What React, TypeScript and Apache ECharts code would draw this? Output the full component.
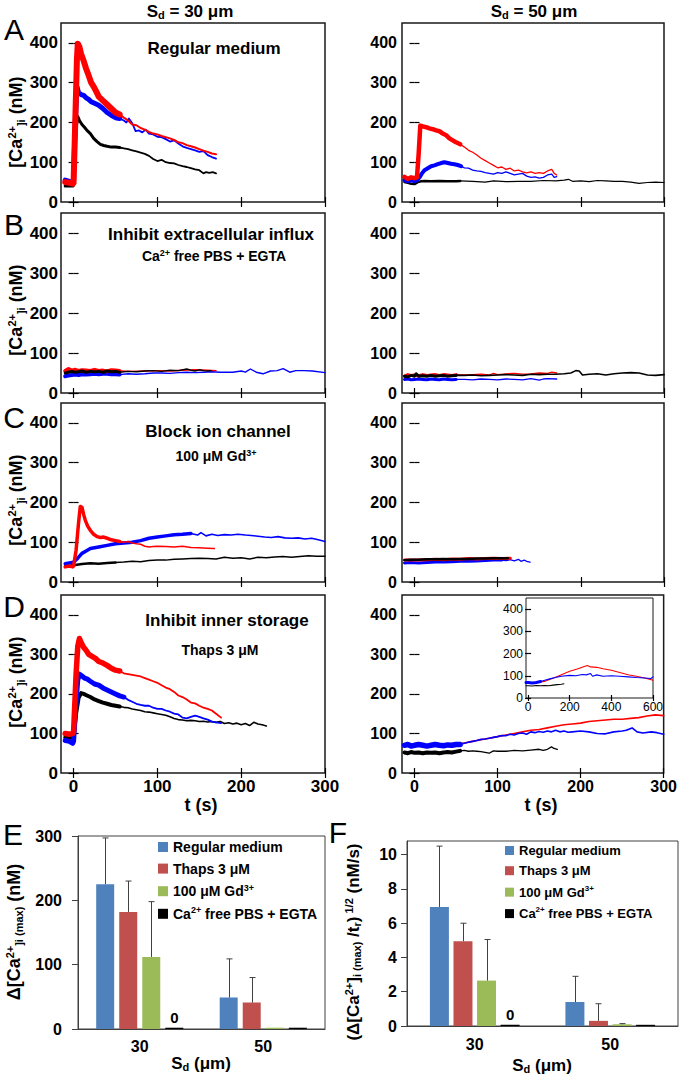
import React, { useEffect, useRef } from "react";
import * as echarts from "echarts";

// ---------------- time traces: [t (s), [Ca2+]i (nM)] ----------------
// A, Sd = 30 um
const A30_red_band = [[-10,50],[-5,48],[-1,46],[0,48],[2,200],[4,360],[5,398],[7,390],[9,372],[12,355],[15,335],[18,318],[21,300],[24,290],[27,278],[30,265],[35,255],[40,245],[45,235],[50,225],[55,220]];
const A30_red_tail = [[55,220],[60,212],[65,205],[70,195],[75,193],[80,186],[85,182],[90,176],[95,172],[100,170],[105,166],[110,163],[115,160],[120,156],[125,150],[130,148],[135,143],[140,140],[145,137],[150,133],[155,129],[160,126],[165,122],[170,120]];
const A30_blue_band = [[-10,55],[-5,52],[-1,50],[0,55],[2,200],[4,290],[6,275],[9,270],[12,268],[15,262],[18,258],[21,252],[25,248],[30,243],[35,235],[40,225],[45,218],[50,212],[55,210]];
const A30_blue_tail = [[55,210],[60,205],[63,200],[66,210],[70,198],[74,178],[78,180],[82,175],[86,182],[90,172],[95,170],[100,164],[105,163],[110,158],[115,152],[120,155],[125,147],[130,140],[135,136],[140,133],[145,130],[150,126],[155,128],[160,118],[165,113],[170,109]];
const A30_black_band = [[-10,40],[-5,40],[-1,40],[0,42],[2,150],[4,205],[5,215],[7,205],[10,195],[13,188],[16,180],[20,172],[24,160],[28,152],[32,145],[36,142],[40,140],[45,138],[50,138],[55,137]];
const A30_black_tail = [[55,137],[60,135],[65,133],[70,130],[75,127],[80,124],[85,121],[90,116],[95,108],[100,103],[105,106],[110,100],[115,98],[120,97],[125,93],[130,90],[135,88],[140,85],[145,82],[150,80],[155,72],[158,75],[162,73],[166,75],[170,72]];
// A, Sd = 50 um
const A50_red_band = [[-12,63],[-8,58],[-4,62],[0,60],[3,62],[5,120],[7,192],[10,190],[14,188],[18,185],[22,183],[26,180],[30,178],[34,172],[38,168],[42,160],[46,155],[50,150],[55,145]];
const A50_red_tail = [[55,145],[60,138],[65,130],[70,125],[75,118],[80,110],[85,104],[90,98],[95,92],[100,86],[105,88],[110,82],[115,85],[120,78],[125,80],[130,76],[135,73],[140,76],[145,72],[150,74],[155,72],[160,78],[165,82],[168,72],[171,68]];
const A50_blue_band = [[-12,55],[-8,52],[-4,55],[0,52],[3,55],[6,62],[9,72],[12,80],[16,85],[20,90],[24,92],[28,95],[32,98],[36,100],[40,98],[44,96],[48,95],[52,93],[56,90]];
const A50_blue_tail = [[56,90],[60,86],[65,85],[70,80],[75,78],[80,77],[85,74],[90,72],[95,70],[100,74],[105,72],[110,76],[115,72],[120,68],[125,70],[130,72],[135,65],[140,62],[145,63],[150,60],[155,62],[160,68],[165,70],[168,62],[171,64]];
const A50_black_band = [[-12,50],[-8,48],[-4,46],[0,45],[4,50],[8,52],[12,53],[20,52],[30,53],[40,52],[50,52],[55,53]];
const A50_black_tail = [[55,53],[70,52],[85,50],[95,53],[110,51],[125,52],[140,52],[155,54],[170,53],[180,55],[185,57],[190,52],[200,53],[210,51],[220,54],[230,53],[240,52],[250,52],[260,50],[270,47],[280,49],[290,50],[300,49]];
// B, Sd = 30 um
const B30_red_band = [[-10,55],[-6,60],[-2,56],[2,58],[6,55],[10,57],[15,56],[20,55],[25,58],[30,55],[35,56],[40,54],[45,57],[50,56],[55,55]];
const B30_red_tail = [[55,55],[70,54],[85,55],[100,56],[115,55],[130,57],[145,58],[160,57],[170,56]];
const B30_blue_band = [[-10,42],[-6,44],[-2,45],[2,46],[6,45],[10,47],[15,46],[20,47],[25,48],[30,47],[35,48],[40,48],[45,47],[50,47],[55,46]];
const B30_blue_tail = [[55,46],[65,48],[75,47],[85,48],[95,50],[105,50],[115,49],[125,51],[135,52],[145,51],[155,52],[165,53],[175,52],[185,52],[190,52],[200,55],[205,52],[211,60],[218,52],[226,48],[235,55],[243,56],[250,61],[258,52],[265,56],[275,56],[285,55],[300,51]];
const B30_black_band = [[-10,50],[-6,52],[-2,54],[2,52],[6,53],[10,55],[15,52],[20,54],[25,53],[30,54],[35,52],[40,55],[45,53],[50,54],[55,52]];
const B30_black_tail = [[55,52],[65,54],[75,53],[85,55],[95,56],[105,54],[115,57],[125,56],[135,60],[140,57],[145,55],[150,58],[155,56],[160,55],[164,56]];
// B, Sd = 50 um
const B50_red_band = [[-12,42],[-8,46],[-4,44],[0,45],[5,43],[10,46],[15,44],[20,45],[25,46],[30,44],[35,46],[40,45],[45,44],[50,46]];
const B50_red_tail = [[50,46],[60,45],[70,46],[80,47],[90,45],[95,49],[100,46],[110,48],[120,49],[130,47],[140,48],[150,50],[160,49],[165,52],[171,50]];
const B50_blue_band = [[-12,34],[-8,35],[-4,33],[0,34],[5,35],[10,34],[15,33],[20,35],[25,34],[30,33],[35,35],[40,34],[45,33],[50,34]];
const B50_blue_tail = [[50,34],[60,34],[70,33],[80,35],[90,34],[100,33],[110,35],[120,34],[130,33],[140,36],[150,32],[155,35],[160,36],[171,35]];
const B50_black_band = [[-12,42],[-8,40],[-4,44],[0,42],[2,48],[5,42],[10,43],[15,42],[20,44],[25,42],[30,43],[35,44],[40,42],[45,43],[50,44]];
const B50_black_tail = [[50,44],[60,44],[70,45],[80,43],[90,44],[100,45],[110,46],[120,45],[130,44],[140,47],[150,46],[160,47],[170,47],[180,48],[188,50],[194,56],[198,55],[202,45],[210,47],[220,48],[230,45],[240,48],[250,50],[260,51],[270,50],[280,45],[290,44],[300,46]];
// C, Sd = 30 um
const C30_red_band = [[-10,38],[-5,40],[-1,38],[0,40],[3,80],[6,150],[8,190],[10,188],[12,170],[14,155],[17,140],[20,130],[24,120],[28,114],[32,112],[36,113],[40,110],[45,106],[50,104],[55,102]];
const C30_red_tail = [[55,102],[60,100],[65,102],[70,98],[75,96],[80,95],[85,90],[90,88],[95,89],[100,90],[110,89],[120,88],[130,90],[140,87],[150,86],[160,85],[168,84]];
const C30_blue_band = [[-10,46],[-5,48],[0,50],[5,60],[10,72],[15,78],[20,84],[30,88],[40,92],[50,96],[60,98],[70,100],[80,104],[90,110],[100,113],[110,116],[120,119],[130,120],[140,122]];
const C30_blue_tail = [[140,122],[148,118],[152,124],[158,116],[165,120],[172,117],[180,119],[188,118],[196,120],[205,118],[212,117],[220,115],[228,113],[236,112],[244,114],[252,111],[260,110],[268,111],[276,108],[284,110],[292,106],[300,102]];
const C30_black_band = [[-10,40],[-5,40],[0,42],[10,45],[20,47],[30,46],[40,48],[50,49]];
const C30_black_tail = [[50,49],[60,50],[70,52],[80,51],[90,54],[100,55],[110,55],[120,57],[130,58],[140,59],[150,60],[160,59],[170,58],[180,62],[190,60],[200,61],[210,58],[220,62],[230,61],[240,63],[250,64],[260,62],[270,64],[280,66],[290,65],[300,65]];
// C, Sd = 50 um
const C50_red_band = [[-12,55],[-5,55],[5,55],[15,56],[25,57],[35,56],[45,58],[55,57],[65,59],[75,58],[85,59],[95,60],[105,59],[115,60]];
const C50_red_tail = [[115,60],[116,60]];
const C50_blue_band = [[-12,48],[-5,49],[5,48],[15,49],[25,50],[35,50],[45,51],[55,52],[65,52],[75,53],[85,54],[95,55],[105,55]];
const C50_blue_tail = [[105,55],[110,54],[115,56],[120,53],[125,57],[128,52],[132,55],[136,51],[139,50]];
const C50_black_band = [[-12,55],[-5,56],[5,56],[15,57],[25,57],[35,58],[45,57],[55,58],[65,58],[75,59],[85,59],[95,60],[105,60],[112,60]];
const C50_black_tail = [[112,60],[113,60]];
// D, Sd = 30 um
const D30_red_band = [[-10,100],[-5,98],[-1,100],[0,104],[3,250],[5,320],[7,340],[9,330],[12,318],[15,310],[18,300],[22,295],[26,290],[30,282],[35,278],[40,272],[45,265],[50,260],[55,258]];
const D30_red_tail = [[55,258],[60,252],[65,250],[70,248],[75,246],[80,244],[85,240],[90,236],[95,232],[100,228],[105,222],[110,216],[115,212],[120,205],[125,196],[130,192],[135,186],[140,178],[145,176],[150,170],[155,165],[160,162],[165,158],[170,150],[176,140]];
const D30_blue_band = [[-10,82],[-5,80],[-1,75],[0,80],[3,180],[5,235],[7,250],[10,245],[13,240],[16,238],[20,232],[25,225],[30,222],[35,215],[40,210],[45,205],[50,200],[55,195],[60,192]];
const D30_blue_tail = [[60,192],[65,185],[70,180],[75,175],[80,172],[85,170],[90,170],[95,165],[100,162],[105,162],[110,158],[115,155],[120,150],[125,148],[130,140],[135,138],[140,142],[145,145],[150,142],[155,138],[160,135],[165,130],[170,128],[176,126]];
const D30_black_band = [[-10,90],[-5,88],[0,92],[3,150],[6,190],[9,202],[12,200],[16,196],[20,192],[25,186],[30,182],[35,178],[40,175],[45,172],[50,170],[55,168]];
const D30_black_tail = [[55,168],[60,166],[65,165],[70,162],[75,160],[80,158],[85,155],[90,154],[95,152],[100,150],[105,148],[110,146],[115,142],[120,138],[125,135],[130,134],[135,132],[140,133],[145,132],[150,130],[155,131],[160,129],[165,130],[170,128],[175,130],[180,125],[185,127],[190,124],[195,126],[200,122],[205,125],[210,120],[215,128],[220,124],[225,122],[230,119]];
// D, Sd = 50 um
const D50_red_band = [[-12,72],[-5,73],[5,72],[15,71],[25,70],[35,72],[45,72],[55,74]];
const D50_red_tail = [[55,74],[60,76],[70,80],[80,84],[90,88],[100,92],[110,96],[120,100],[130,104],[140,108],[150,110],[160,114],[170,118],[180,122],[190,124],[200,126],[210,130],[220,132],[230,134],[240,136],[250,136],[260,138],[270,140],[280,144],[290,147],[300,145]];
const D50_blue_band = [[-12,70],[-8,72],[-4,68],[0,70],[5,72],[10,70],[15,68],[20,70],[25,72],[30,70],[35,69],[40,71],[45,70],[50,72],[55,72]];
const D50_blue_tail = [[55,72],[60,75],[65,78],[70,80],[75,82],[80,85],[85,86],[90,88],[95,90],[100,92],[105,95],[110,94],[115,98],[120,96],[125,100],[130,101],[135,98],[140,104],[145,102],[150,105],[155,103],[160,106],[165,104],[170,108],[175,104],[180,106],[185,103],[190,104],[200,106],[210,104],[220,100],[230,99],[240,104],[250,106],[255,108],[262,114],[268,104],[275,101],[285,104],[292,102],[300,98]];
const D50_black_band = [[-12,52],[-8,50],[-4,53],[0,51],[5,52],[10,50],[15,52],[20,51],[25,52],[30,50],[35,52],[40,53],[45,52],[50,54],[55,56]];
const D50_black_tail = [[55,56],[60,57],[65,55],[70,56],[75,55],[80,54],[85,52],[90,50],[95,56],[100,55],[110,55],[120,57],[130,56],[140,58],[150,60],[155,57],[160,60],[165,66],[168,62],[172,60]];
// inset of D, Sd = 50 um (0-600 s)
const INS_red = [[-10,72],[0,70],[20,70],[40,70],[60,72],[80,75],[100,82],[130,92],[160,105],[200,120],[240,132],[270,142],[285,146],[300,140],[330,138],[360,132],[400,125],[440,115],[480,105],[520,98],[560,90],[600,80]];
const INS_blue_band = [[-10,70],[0,70],[20,68],[40,70],[60,74]];
const INS_blue_tail = [[60,74],[80,80],[100,85],[130,92],[160,98],[200,102],[230,100],[260,106],[280,104],[300,110],[310,98],[330,104],[360,98],[400,100],[440,98],[480,95],[520,92],[560,90],[590,88],[600,95]];
const INS_black = [[-10,55],[0,55],[20,54],[40,56],[60,55],[80,56],[100,55],[120,58],[140,60],[160,62],[172,64]];

// axis ticks
const T_TICKS = [0, 100, 200, 300];
const CA_TICKS = [0, 100, 200, 300, 400];
const INSET_T_TICKS = [0, 200, 400, 600];
const INSET_CA_TICKS = [0, 100, 200, 300, 400];

// ---------------- bar charts ----------------
const BAR_CATEGORIES = ["30", "50"];
const BAR_NAMES = ["Regular medium", "Thaps 3 μM", "100 μM Gd3+", "Ca2+ free PBS + EGTA"];
const E_regular = [225, 49];
const E_thaps = [182, 41];
const E_gd = [112, 2];
const E_free = [2, 2];
const E_regular_err = [297, 109];
const E_thaps_err = [230, 80];
const E_gd_err = [198, null];
const E_free_err = [null, null];
const E_TICKS = [0, 100, 200, 300];
const F_regular = [6.95, 1.4];
const F_thaps = [4.95, 0.3];
const F_gd = [2.65, 0.1];
const F_free = [0.08, 0.07];
const F_regular_err = [10.5, 2.9];
const F_thaps_err = [6.0, 1.3];
const F_gd_err = [5.05, 0.14];
const F_free_err = [null, null];
const F_TICKS = [0, 2, 4, 6, 8, 10];

// ---------------- styling ----------------
const FONT = "'Liberation Sans', Arial, Helvetica, sans-serif";
const RED = "#ff0000";
const BLUE = "#0000ff";
const BLACK = "#000000";
const BAR_COLORS = ["#4f81bd", "#c0504d", "#9bbb59", "#000000"];

const richSet = (size: number) => ({
  b: { fontSize: size, fontWeight: "bold", fontFamily: FONT, color: "#000", lineHeight: size + 2 },
  n: { fontSize: size, fontWeight: "normal", fontFamily: FONT, color: "#000", lineHeight: size + 2 },
  sup: { fontSize: Math.round(size * 0.62), fontWeight: "bold", fontFamily: FONT, color: "#000", verticalAlign: "top", lineHeight: Math.round(size * 0.62) },
  sub: { fontSize: Math.round(size * 0.62), fontWeight: "bold", fontFamily: FONT, color: "#000", verticalAlign: "bottom", lineHeight: Math.round(size * 0.62) },
});

type Trace = [number[][], number[][], string, number, number];
interface Panel {
  left: number; top: number; width: number; height: number;
  xLabels: boolean; yFont: number; yMargin: number; traces: Trace[];
}

const LW = 264, RW = 262;
const PANELS: Panel[] = [
  { left: 61, top: 23, width: LW, height: 179, xLabels: false, yFont: 17, yMargin: 3, traces: [[A30_black_band, A30_black_tail, BLACK, 3, 1.8], [A30_blue_band, A30_blue_tail, BLUE, 5, 1.8], [A30_red_band, A30_red_tail, RED, 6, 2]] },
  { left: 402, top: 23, width: RW, height: 179, xLabels: false, yFont: 16, yMargin: 5, traces: [[A50_black_band, A50_black_tail, BLACK, 2.5, 1.2], [A50_blue_band, A50_blue_tail, BLUE, 4, 1.3], [A50_red_band, A50_red_tail, RED, 4.5, 1.3]] },
  { left: 61, top: 213, width: LW, height: 180, xLabels: false, yFont: 17, yMargin: 3, traces: [[B30_blue_band, B30_blue_tail, BLUE, 4, 1.4], [B30_red_band, B30_red_tail, RED, 4, 1.4], [B30_black_band, B30_black_tail, BLACK, 3, 1.4]] },
  { left: 402, top: 213, width: RW, height: 180, xLabels: false, yFont: 16, yMargin: 5, traces: [[B50_blue_band, B50_blue_tail, BLUE, 3, 1.3], [B50_red_band, B50_red_tail, RED, 3, 1.3], [B50_black_band, B50_black_tail, BLACK, 3, 1.6]] },
  { left: 61, top: 403, width: LW, height: 179, xLabels: false, yFont: 17, yMargin: 3, traces: [[C30_black_band, C30_black_tail, BLACK, 2.5, 1.5], [C30_blue_band, C30_blue_tail, BLUE, 3.5, 1.6], [C30_red_band, C30_red_tail, RED, 3.5, 1.5]] },
  { left: 402, top: 403, width: RW, height: 179, xLabels: false, yFont: 16, yMargin: 5, traces: [[C50_blue_band, C50_blue_tail, BLUE, 3, 1.3], [C50_red_band, C50_red_tail, RED, 3, 1.3], [C50_black_band, C50_black_tail, BLACK, 2.5, 1.3]] },
  { left: 61, top: 595, width: LW, height: 178, xLabels: true, yFont: 17, yMargin: 3, traces: [[D30_black_band, D30_black_tail, BLACK, 4, 1.6], [D30_blue_band, D30_blue_tail, BLUE, 5, 1.8], [D30_red_band, D30_red_tail, RED, 5.5, 1.8]] },
  { left: 402, top: 595, width: RW, height: 178, xLabels: true, yFont: 16, yMargin: 5, traces: [[D50_black_band, D50_black_tail, BLACK, 4, 1.3], [D50_red_band, D50_red_tail, RED, 2, 1.6], [D50_blue_band, D50_blue_tail, BLUE, 5.5, 1.6]] },
];

function buildOption() {
  const grid: any[] = [];
  const xAxis: any[] = [];
  const yAxis: any[] = [];
  const series: any[] = [];

  const tickStyle = { color: "#000", width: 1.2 };
  const lineS = (xi: number, yi: number, data: number[][], color: string, width: number) => ({
    type: "line", xAxisIndex: xi, yAxisIndex: yi, data, showSymbol: false, symbol: "none",
    lineStyle: { color, width, join: "round", cap: "round" }, itemStyle: { color }, silent: true, clip: true,
  });

  const addTimePanel = (p: { left: number; top: number; width: number; height: number }, xMin: number, xMax: number, xTicks: number[], yTicks: number[], showX: boolean, labelFont: number, yMargin: number, xMargin: number, bold: boolean, border: number, tickLen: number) => {
    const gi = grid.length;
    grid.push({ left: p.left, top: p.top, width: p.width, height: p.height, show: true, borderColor: "#1a1a1a", borderWidth: border, backgroundColor: "#fff" });
    const lab = { fontSize: labelFont, fontWeight: bold ? "bold" : "normal", color: "#000", fontFamily: FONT };
    const xi = xAxis.length;
    xAxis.push({ type: "value", gridIndex: gi, position: "bottom", min: xMin, max: xMax, axisLine: { show: false },
      axisTick: { show: true, inside: true, length: tickLen, lineStyle: tickStyle, customValues: xTicks },
      axisLabel: { show: showX, margin: xMargin, ...lab, customValues: xTicks }, splitLine: { show: false } });
    xAxis.push({ type: "value", gridIndex: gi, position: "top", min: xMin, max: xMax, axisLine: { show: false },
      axisTick: { show: true, inside: true, length: tickLen, lineStyle: tickStyle, customValues: xTicks },
      axisLabel: { show: false }, splitLine: { show: false } });
    const yi = yAxis.length;
    yAxis.push({ type: "value", gridIndex: gi, position: "left", min: 0, max: 450, axisLine: { show: false },
      axisTick: { show: true, inside: true, length: tickLen, lineStyle: tickStyle, customValues: yTicks },
      axisLabel: { show: true, margin: yMargin, ...lab, customValues: yTicks }, splitLine: { show: false } });
    yAxis.push({ type: "value", gridIndex: gi, position: "right", min: 0, max: 450, axisLine: { show: false },
      axisTick: { show: true, inside: true, length: tickLen, lineStyle: tickStyle, customValues: yTicks },
      axisLabel: { show: false }, splitLine: { show: false } });
    return { xi, yi };
  };

  PANELS.forEach((p) => {
    const { xi, yi } = addTimePanel(p, -15, 300, T_TICKS, CA_TICKS, p.xLabels, p.yFont, p.yMargin, 5, true, 1.5, 5);
    p.traces.forEach(([band, tail, color, bw, tw]) => {
      series.push(lineS(xi, yi, tail, color, tw));
      series.push(lineS(xi, yi, band, color, bw));
    });
  });

  // inset
  {
    const { xi, yi } = addTimePanel({ left: 526, top: 598, width: 127, height: 100 }, -10, 600, INSET_T_TICKS, INSET_CA_TICKS, true, 12, 3, 3, false, 1, 3);
    series.push(lineS(xi, yi, INS_black, BLACK, 1.1));
    series.push(lineS(xi, yi, INS_red, RED, 1.1));
    series.push(lineS(xi, yi, INS_blue_tail, BLUE, 1.1));
    series.push(lineS(xi, yi, INS_blue_band, BLUE, 3));
  }

  // bar panels
  const addBarPanel = (box: any, yMax: number, yTicks: number[], vals: number[][], errs: (number | null)[][], barW: number, gapPct: number, labelMargin: number, xMargin: number) => {
    const gi = grid.length;
    grid.push({ ...box, show: true, borderColor: "#404040", borderWidth: 1, backgroundColor: "#fff" });
    const lab = { fontSize: 16, fontWeight: "bold", color: "#000", fontFamily: FONT };
    const xi = xAxis.length;
    xAxis.push({ type: "category", gridIndex: gi, data: BAR_CATEGORIES, axisLine: { show: true, lineStyle: { color: "#404040", width: 1 } },
      axisTick: { show: false }, axisLabel: { margin: xMargin, ...lab }, splitLine: { show: false } });
    const yi = yAxis.length;
    yAxis.push({ type: "value", gridIndex: gi, min: 0, max: yMax, axisLine: { show: true, lineStyle: { color: "#404040", width: 1 } },
      axisTick: { show: true, inside: false, length: 6, lineStyle: { color: "#404040" }, customValues: yTicks },
      axisLabel: { margin: labelMargin, ...lab, customValues: yTicks }, splitLine: { show: false } });
    vals.forEach((v, s) => {
      series.push({
        type: "bar", name: BAR_NAMES[s], xAxisIndex: xi, yAxisIndex: yi, barWidth: barW, barGap: gapPct + "%",
        itemStyle: { color: BAR_COLORS[s] }, silent: true,
        data: v.map((val, c) => (s === 3 && c === 0 ? { value: val, label: { show: true, position: "top", distance: 3, formatter: "0", ...lab, fontSize: 15 } } : val)),
      });
    });
    const errData: number[][] = [];
    errs.forEach((arr, s) => arr.forEach((e, c) => { if (e != null) errData.push([c, e, vals[s][c], s]); }));
    const step = barW * (1 + gapPct / 100);
    series.push({
      type: "custom", name: "err", xAxisIndex: xi, yAxisIndex: yi, data: errData, silent: true, z: 3,
      renderItem: (_params: any, api: any) => {
        const c = api.value(0), e = api.value(1), v = api.value(2), s = api.value(3);
        const top = api.coord([c, e]);
        const base = api.coord([c, v]);
        const x = Math.round(top[0] + (s - 1.5) * step) + 0.5;
        const st = { stroke: "#404040", lineWidth: 1 };
        return { type: "group", children: [
          { type: "line", shape: { x1: x, y1: base[1], x2: x, y2: top[1] }, style: st },
          { type: "line", shape: { x1: x - 3, y1: top[1], x2: x + 3, y2: top[1] }, style: st },
        ] };
      },
    });
  };

  addBarPanel({ left: 78, top: 836, width: 247, height: 193 }, 300, E_TICKS,
    [E_regular, E_thaps, E_gd, E_free], [E_regular_err, E_thaps_err, E_gd_err, E_free_err], 18, 28, 16, 9);
  addBarPanel({ left: 407, top: 841, width: 271, height: 185 }, 10.8, F_TICKS,
    [F_regular, F_thaps, F_gd, F_free], [F_regular_err, F_thaps_err, F_gd_err, F_free_err], 19, 24, 10, 10);

  const legendFmt = (name: string) => {
    if (name === "100 μM Gd3+") return "{t|100 μM Gd}{s|3+}";
    if (name === "Ca2+ free PBS + EGTA") return "{t|Ca}{s|2+}{t| free PBS + EGTA}";
    return "{t|" + name + "}";
  };
  const legendRich = (size: number, lh: number) => ({
    t: { fontSize: size, fontWeight: "bold", fontFamily: FONT, color: "#000", lineHeight: lh },
    s: { fontSize: Math.round(size * 0.65), fontWeight: "bold", fontFamily: FONT, color: "#000", verticalAlign: "top", lineHeight: Math.round(size * 0.65) },
  });
  const legend = [
    { data: BAR_NAMES, left: 158, top: 840, orient: "vertical", icon: "rect", itemWidth: 10, itemHeight: 10, itemGap: 7.6, padding: 0,
      selectedMode: false, formatter: legendFmt, textStyle: { fontSize: 14, fontWeight: "bold", fontFamily: FONT, color: "#000", rich: legendRich(14, 16) } },
    { data: BAR_NAMES, left: 505, top: 844, orient: "vertical", icon: "rect", itemWidth: 9, itemHeight: 9, itemGap: 7.2, padding: 0,
      selectedMode: false, formatter: legendFmt, textStyle: { fontSize: 13, fontWeight: "bold", fontFamily: FONT, color: "#000", rich: legendRich(13, 15.5) } },
  ];

  const txt = (x: number, y: number, text: string, size: number, rot = 0) => ({
    type: "text", x, y, rotation: rot, silent: true,
    style: { text, rich: richSet(size), align: "center", verticalAlign: "middle", fontFamily: FONT, fontSize: size, fontWeight: "bold", fill: "#000" },
  });
  const letter = (x: number, y: number, t: string) => ({
    type: "text", x, y, silent: true,
    style: { text: t, fontSize: 30, fontFamily: FONT, fontWeight: "normal", fill: "#000", align: "center", verticalAlign: "middle" },
  });
  const R = Math.PI / 2;
  const caLabel = "{b|[Ca}{sup|2+}{sub|]i}{b| (nM)}";
  const elements = [
    txt(190, 11, "{b|S}{sub|d}{b| = 30 μm}", 17),
    txt(534, 11, "{b|S}{sub|d}{b| = 50 μm}", 17),
    letter(14, 29, "A"), letter(14, 224, "B"), letter(14, 417, "C"), letter(14, 606, "D"), letter(13, 834, "E"), letter(338, 832, "F"),
    txt(16, 122, caLabel, 18, R), txt(16, 310, caLabel, 18, R), txt(16, 500, caLabel, 18, R), txt(16, 682, caLabel, 18, R),
    txt(214, 48, "{b|Regular medium}", 17),
    txt(211, 234, "{b|Inhibit extracellular influx}", 17),
    txt(214, 256, "{b|Ca}{sup|2+}{b| free PBS + EGTA}", 14),
    txt(218, 431, "{b|Block ion channel}", 17),
    txt(216, 456, "{b|100 μM Gd}{sup|3+}", 14),
    txt(227, 620, "{b|Inhibit inner storage}", 17),
    txt(220, 650, "{b|Thaps 3 μM}", 14),
    txt(201, 805, "{b|t (s)}", 18),
    txt(541, 805, "{b|t (s)}", 18),
    txt(14, 932, "{b|Δ[Ca}{sup|2+}{sub|]i (max)}{b| (nM)}", 18, R),
    txt(353, 942, "{b|(Δ[Ca}{sup|2+}{b|]}{sub|i (max)}{b| /t}{sub|r}{b|)}{sup| 1/2}{b| (nM/s)}", 17, R),
    txt(201, 1063, "{b|S}{sub|d}{b| (μm)}", 17),
    txt(542, 1065, "{b|S}{sub|d}{b| (μm)}", 17),
  ];

  return {
    animation: false,
    backgroundColor: "#fff",
    textStyle: { fontFamily: FONT },
    grid, xAxis, yAxis, series, legend,
    graphic: { elements },
  };
}

export default function App() {
  const ref = useRef<HTMLDivElement>(null);
  useEffect(() => {
    if (!ref.current) return;
    const chart = echarts.init(ref.current, null, { renderer: "svg" });
    chart.setOption(buildOption() as any);
    return () => chart.dispose();
  }, []);
  return <div ref={ref} style={{ position: "absolute", left: 0, top: 0, width: 680, height: 1075, background: "#fff" }} />;
}
